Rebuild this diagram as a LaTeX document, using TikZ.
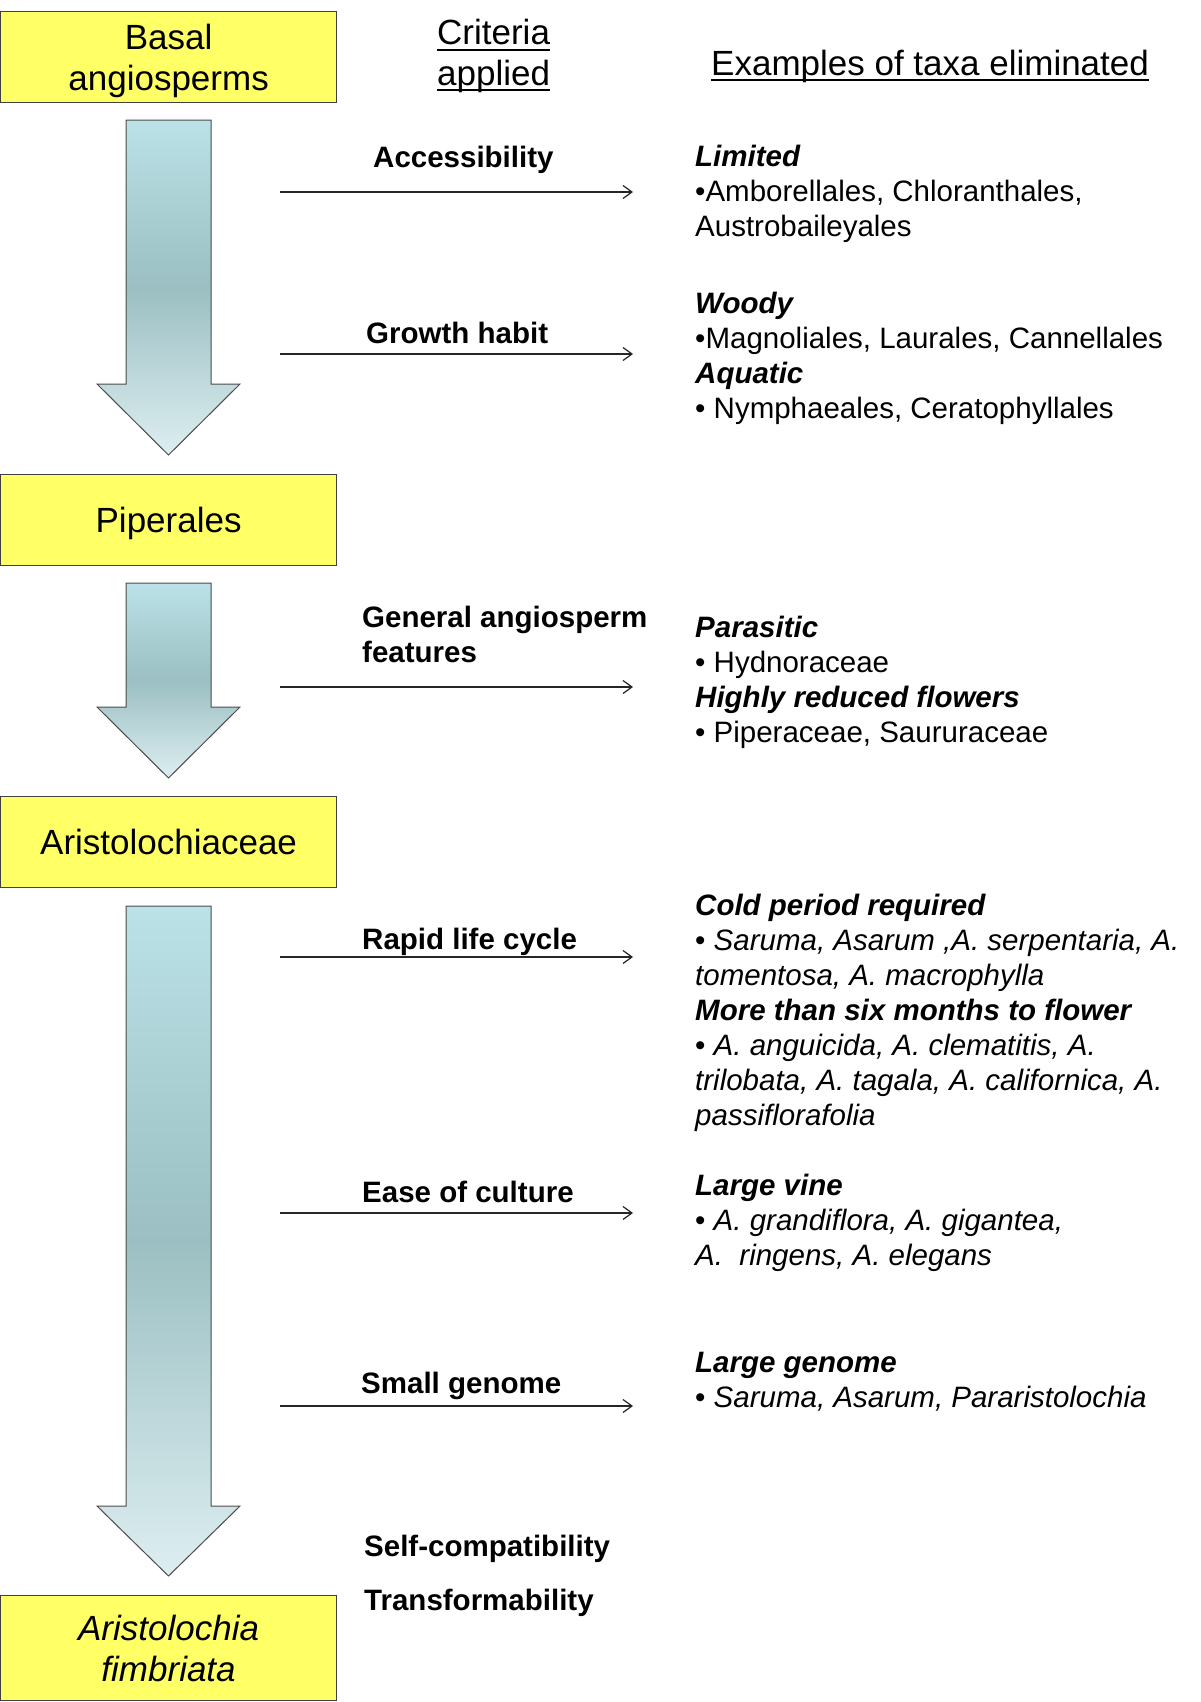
\documentclass[tikz,border=0pt]{standalone}
\usepackage{fontspec}
\setmainfont{Liberation Sans}
\usetikzlibrary{arrows.meta}

\definecolor{boxyellow}{HTML}{FFFF66}
\definecolor{arrowtop}{HTML}{BBE2E7}
\definecolor{arrowmid}{HTML}{9BBFC2}
\definecolor{arrowbot}{HTML}{DDEEF1}

\tikzset{
  taxonbox/.style={draw=black!75, line width=1.2pt, fill=boxyellow, minimum width=336pt,
    minimum height=91pt, inner sep=0pt, align=center, anchor=north west, text depth=0pt,
    font=\fontsize{35}{41}\selectfont},
  bigarrow/.style={draw=black!70, line width=1pt, top color=arrowtop, bottom color=arrowbot,
    middle color=arrowmid},
  colhead/.style={inner sep=0pt, anchor=base west, font=\fontsize{35}{41}\selectfont},
  % multi-line nodes: base is the baseline of the last line
  crit/.style={inner sep=0pt, anchor=base west, align=left, font=\fontsize{29.5}{35}\selectfont\bfseries},
  taxa/.style={inner sep=0pt, anchor=base west, align=left, font=\fontsize{29.5}{35}\selectfont},
  link/.style={draw=black!85, line width=1.4pt, -{Straight Barb[length=9pt,width=13pt,line width=1.2pt]}},
}
\newcommand{\grp}[1]{\textbf{\textit{#1}}}

\begin{document}
\begin{tikzpicture}[x=1pt,y=-1pt]
  \useasboundingbox (0,0) rectangle (1200,1702);
  % yellow boxes down the left side
  \node[taxonbox] (basal) at (0,11) {Basal\\angiosperms};
  \node[taxonbox] (piper) at (0,474) {Piperales};
  \node[taxonbox] (aristo) at (0,796) {Aristolochiaceae};
  \node[taxonbox, minimum height=105pt, font=\fontsize{35}{41}\selectfont\itshape] (fimb) at (0,1595)
    {Aristolochia\\fimbriata};
  % shaded arrows between the boxes
  \foreach \t/\h/\b in {120/384/455, 583/707/778, 906/1506/1576}
    \draw[bigarrow] (126,\t) -- (211,\t) -- (211,\h) -- (240,\h) -- (168.5,\b)
      -- (97,\h) -- (126,\h) -- cycle;
  % column headings
  \node[colhead] (crit) at (437,45) {Criteria};
  \node[colhead] (appl) at (437,85) {applied};
  \node[colhead] (exam) at (711,75) {Examples of taxa eliminated};
  \foreach \n in {crit,appl,exam}
    \draw[line width=2pt] ([yshift=-5pt]\n.base west) -- ([yshift=-5pt]\n.base east);
  % criteria applied
  \foreach \x/\y/\t [count=\i] in {373/167/Accessibility, 366/343/Growth habit,
      362/662/{General angiosperm\\features}, 362/949/Rapid life cycle, 362/1202/Ease of culture,
      361/1393/Small genome, 364/1556/Self-compatibility, 364/1610/Transformability}
    \node[crit] (c\i) at (\x,\y) {\t};
  % arrows from criteria to eliminated taxa
  \foreach \y [count=\i] in {192,354,687,957,1213,1406} {
    \coordinate (s\i) at (280,\y);
    \coordinate (e\i) at (633,\y);
    \draw[link] (s\i) -- (e\i);
  }
  % taxa eliminated
  \node[taxa] (t1) at (695,236) {\grp{Limited}\\•Amborellales, Chloranthales,\\Austrobaileyales};
  \node[taxa] (t2) at (695,418) {\grp{Woody}\\•Magnoliales, Laurales, Cannellales\\\grp{Aquatic}\\• Nymphaeales, Ceratophyllales};
  \node[taxa] (t3) at (695,742) {\grp{Parasitic}\\• Hydnoraceae\\\grp{Highly reduced flowers}\\• Piperaceae, Saururaceae};
  \node[taxa] (t4) at (695,1125) {\grp{Cold period required}\\
    • \textit{Saruma, Asarum ,A. serpentaria, A.}\\\textit{tomentosa, A. macrophylla}\\
    \grp{More than six months to flower}\\• \textit{A. anguicida, A. clematitis, A.}\\
    \textit{trilobata, A. tagala, A. californica, A.}\\\textit{passiflorafolia}};
  \node[taxa] (t5) at (695,1265) {\grp{Large vine}\\• \textit{A. grandiflora, A. gigantea,}\\\textit{A.\ \ ringens, A. elegans}};
  \node[taxa] (t6) at (695,1407) {\grp{Large genome}\\• \textit{Saruma, Asarum, Pararistolochia}};
\end{tikzpicture}
\end{document}
